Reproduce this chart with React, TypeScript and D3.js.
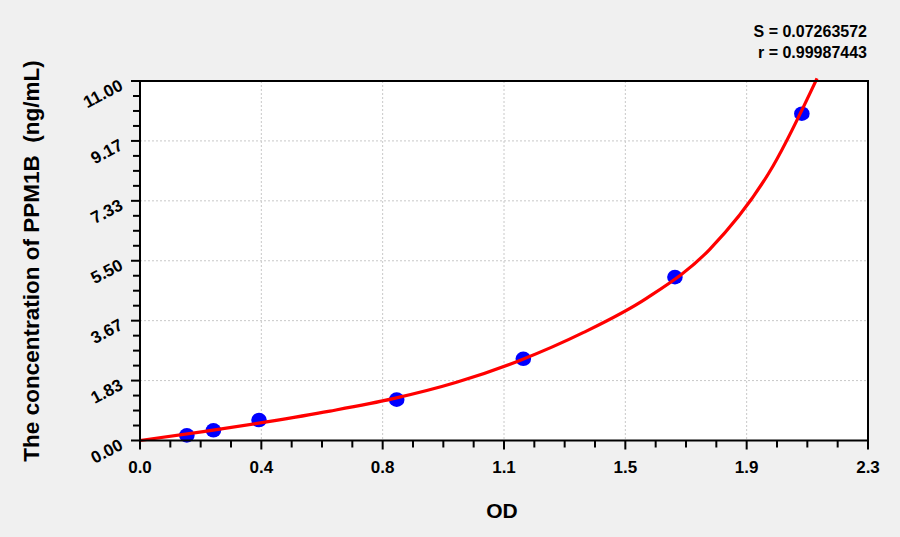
import { useEffect, useRef } from 'react';
import * as d3 from 'd3';

// Standard points (OD vs concentration)
const standardOD = [0.148, 0.232, 0.376, 0.811, 1.211, 1.69, 2.091];
const standardConc = [0.156, 0.312, 0.625, 1.25, 2.5, 5, 10];

// Fitted curve
const curveOD = [0, 0.2, 0.4, 0.6, 0.8, 1.0, 1.2, 1.4, 1.6, 1.8, 2.0, 2.139];
const curveConc = [0, 0.27, 0.57, 0.9, 1.28, 1.78, 2.45, 3.3, 4.35, 5.85, 8.4, 11.08];

const xTickLabels = ['0.0', '0.4', '0.8', '1.1', '1.5', '1.9', '2.3'];
const yTickLabels = ['0.00', '1.83', '3.67', '5.50', '7.33', '9.17', '11.00'];

const statLines = ['S = 0.07263572', 'r = 0.99987443'];

const WIDTH = 900;
const HEIGHT = 537;
const FONT = 'Arial, "Liberation Sans", sans-serif';

export default function App() {
  const svgRef = useRef<SVGSVGElement>(null);

  useEffect(() => {
    if (!svgRef.current) return;
    const svg = d3.select(svgRef.current);
    svg.selectAll('*').remove();

    const margin = { top: 81, right: 32, bottom: 96.5, left: 140 };
    const innerWidth = WIDTH - margin.left - margin.right;
    const innerHeight = HEIGHT - margin.top - margin.bottom;

    svg.append('rect').attr('width', WIDTH).attr('height', HEIGHT).attr('fill', '#f0f0f0');

    const g = svg.append('g').attr('transform', `translate(${margin.left},${margin.top})`);

    const x = d3.scaleLinear().domain([0, 2.3]).range([0, innerWidth]);
    const y = d3.scaleLinear().domain([0, 11]).range([innerHeight, 0]);

    const xMajor = xTickLabels.map((_, i) => (2.3 * i) / (xTickLabels.length - 1));
    const yMajor = yTickLabels.map((_, i) => (11 * i) / (yTickLabels.length - 1));
    const xMinor = d3.range(0, (xMajor.length - 1) * 4 + 1).map((i) => (2.3 * i) / 24);
    const yMinor = d3.range(0, (yMajor.length - 1) * 4 + 1).map((i) => (11 * i) / 24);

    // Plot background
    g.append('rect').attr('width', innerWidth).attr('height', innerHeight).attr('fill', '#ffffff');

    // Grid lines
    g.selectAll('.gx')
      .data(xMajor.slice(1, -1))
      .enter()
      .append('line')
      .attr('x1', (d) => x(d))
      .attr('x2', (d) => x(d))
      .attr('y1', 0)
      .attr('y2', innerHeight)
      .attr('stroke', '#c8c8c8')
      .attr('stroke-width', 1)
      .attr('stroke-dasharray', '2,2');
    g.selectAll('.gy')
      .data(yMajor.slice(1, -1))
      .enter()
      .append('line')
      .attr('x1', 0)
      .attr('x2', innerWidth)
      .attr('y1', (d) => y(d))
      .attr('y2', (d) => y(d))
      .attr('stroke', '#c8c8c8')
      .attr('stroke-width', 1)
      .attr('stroke-dasharray', '2,2');

    // Points
    g.selectAll('.pt')
      .data(standardOD)
      .enter()
      .append('ellipse')
      .attr('cx', (d) => x(d))
      .attr('cy', (_, i) => y(standardConc[i]))
      .attr('rx', 7.8)
      .attr('ry', 7.3)
      .attr('fill', '#0000ff');

    // Fitted curve
    const curveData = curveOD.map((od, i) => [od, curveConc[i]] as [number, number]);
    const line = d3
      .line<[number, number]>()
      .x((d) => x(d[0]))
      .y((d) => y(d[1]))
      .curve(d3.curveMonotoneX);
    g.append('path')
      .datum(curveData)
      .attr('fill', 'none')
      .attr('stroke', '#ff0000')
      .attr('stroke-width', 3.2)
      .attr('d', line);

    // Frame
    g.append('rect')
      .attr('width', innerWidth)
      .attr('height', innerHeight)
      .attr('fill', 'none')
      .attr('stroke', '#000')
      .attr('stroke-width', 2);

    // Ticks
    g.selectAll('.tx')
      .data(xMinor)
      .enter()
      .append('line')
      .attr('x1', (d) => x(d))
      .attr('x2', (d) => x(d))
      .attr('y1', innerHeight)
      .attr('y2', (_, i) => innerHeight + (i % 4 === 0 ? 9 : 7))
      .attr('stroke', '#000')
      .attr('stroke-width', 2);
    g.selectAll('.ty')
      .data(yMinor)
      .enter()
      .append('line')
      .attr('x1', 0)
      .attr('x2', (_, i) => (i % 4 === 0 ? -9 : -7))
      .attr('y1', (d) => y(d))
      .attr('y2', (d) => y(d))
      .attr('stroke', '#000')
      .attr('stroke-width', 2);

    // Tick labels
    g.selectAll('.xl')
      .data(xTickLabels)
      .enter()
      .append('text')
      .attr('x', (_, i) => x(xMajor[i]))
      .attr('y', innerHeight + 32)
      .attr('text-anchor', 'middle')
      .attr('font-family', FONT)
      .attr('font-weight', 'bold')
      .attr('font-size', 17)
      .attr('fill', '#000')
      .text((d) => d);
    g.selectAll('.yl')
      .data(yTickLabels)
      .enter()
      .append('text')
      .attr('transform', (_, i) => `translate(-16,${y(yMajor[i]) + 8}) rotate(-28)`)
      .attr('text-anchor', 'end')
      .attr('font-family', FONT)
      .attr('font-weight', 'bold')
      .attr('font-size', 17)
      .attr('fill', '#000')
      .text((d) => d);

    // Axis titles
    svg
      .append('text')
      .attr('x', 502)
      .attr('y', 518)
      .attr('text-anchor', 'middle')
      .attr('font-family', FONT)
      .attr('font-weight', 'bold')
      .attr('font-size', 21)
      .attr('fill', '#000')
      .text('OD');
    svg
      .append('text')
      .attr('transform', `translate(39,261) rotate(-90)`)
      .attr('text-anchor', 'middle')
      .attr('font-family', FONT)
      .attr('font-weight', 'bold')
      .attr('font-size', 22.5)
      .attr('fill', '#000')
      .attr('xml:space', 'preserve')
      .style('white-space', 'pre')
      .text('The concentration of PPM1B  (ng/mL)');

    // Fit statistics
    svg
      .selectAll('.stat')
      .data(statLines)
      .enter()
      .append('text')
      .attr('x', 867)
      .attr('y', (_, i) => 37 + i * 21)
      .attr('text-anchor', 'end')
      .attr('font-family', FONT)
      .attr('font-weight', 'bold')
      .attr('font-size', 16)
      .attr('fill', '#000')
      .text((d) => d);
  }, []);

  return (
    <svg
      ref={svgRef}
      width={WIDTH}
      height={HEIGHT}
      style={{ position: 'absolute', left: 0, top: 0 }}
    />
  );
}
